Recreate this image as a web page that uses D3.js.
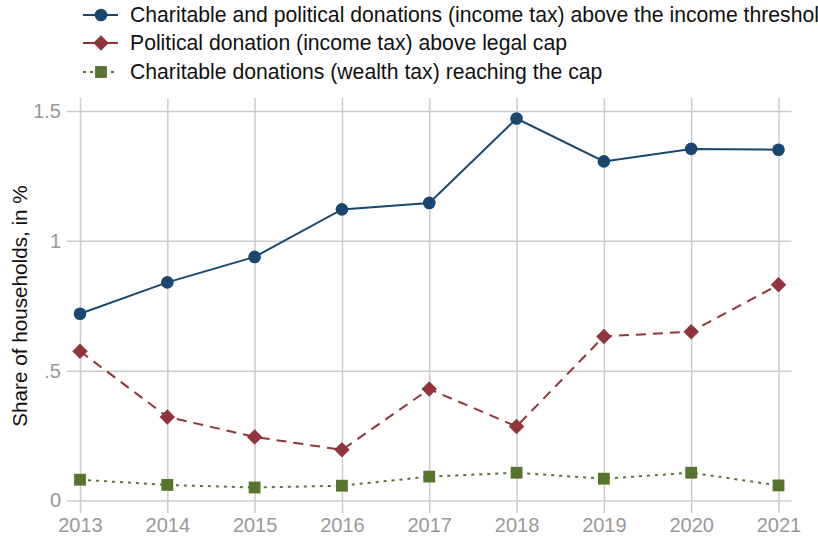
<!DOCTYPE html>
<html>
<head>
<meta charset="utf-8">
<script src="https://cdn.jsdelivr.net/npm/d3@7"></script>
<style>
  html, body { margin: 0; padding: 0; background: #fff; overflow: hidden; }
  svg { display: block; }
</style>
</head>
<body>
<svg id="chart" width="818" height="539"></svg>
<script>
const years = [2013, 2014, 2015, 2016, 2017, 2018, 2019, 2020, 2021];
const incomeTaxAboveThreshold = [0.719, 0.840, 0.938, 1.121, 1.146, 1.471, 1.306, 1.354, 1.351];
const politicalAboveCap = [0.575, 0.322, 0.245, 0.195, 0.429, 0.285, 0.632, 0.650, 0.831];
const wealthTaxReachingCap = [0.080, 0.060, 0.050, 0.057, 0.092, 0.107, 0.084, 0.107, 0.058];
const yTicks = [0, 0.5, 1, 1.5];
const yTickLabels = ["0", ".5", "1", "1.5"];
const seriesNames = [
  "Charitable and political donations (income tax) above the income threshold",
  "Political donation (income tax) above legal cap",
  "Charitable donations (wealth tax) reaching the cap"
];

const svg = d3.select("#chart");
const font = "'Liberation Sans', Arial, sans-serif";

const x = d3.scaleLinear().domain([2013, 2021]).range([80, 778.5]);
const y = d3.scaleLinear().domain([0, 1.5]).range([500.5, 111]);

const gridColor = "#cccccc";
const gridLeft = 67, gridRight = 791.5, gridTop = 98, gridBottom = 513;

// horizontal gridlines
const gy = svg.append("g").attr("transform", `translate(${gridRight},0)`);
gy.call(d3.axisLeft(y).tickValues(yTicks).tickSize(gridRight - gridLeft).tickFormat(""));
gy.select(".domain").remove();
gy.selectAll(".tick line").attr("stroke", gridColor).attr("stroke-width", 1.5);

// y labels
const gyl = svg.append("g").attr("transform", `translate(${gridLeft},0)`);
gyl.call(d3.axisLeft(y).tickValues(yTicks).tickSize(0).tickPadding(6).tickFormat((d, i) => yTickLabels[i]));
gyl.select(".domain").remove();
gyl.selectAll(".tick text").attr("font-family", font).attr("font-size", 20).attr("fill", "#999999");

// vertical gridlines
const gx = svg.append("g").attr("transform", `translate(0,${gridTop})`);
gx.call(d3.axisBottom(x).tickValues(years).tickSize(gridBottom - gridTop).tickFormat(""));
gx.select(".domain").remove();
gx.selectAll(".tick line").attr("stroke", gridColor).attr("stroke-width", 1.5);

const gxl = svg.append("g").attr("transform", `translate(0,${gridBottom})`);
gxl.call(d3.axisBottom(x).tickValues(years).tickSize(0).tickPadding(5).tickFormat(d3.format("d")));
gxl.select(".domain").remove();
gxl.selectAll(".tick text").attr("font-family", font).attr("font-size", 20).attr("fill", "#999999");

// y title
svg.append("text")
  .attr("transform", "translate(27,306) rotate(-90)")
  .attr("text-anchor", "middle")
  .attr("font-family", font).attr("font-size", 20.7).attr("fill", "#111")
  .text("Share of households, in %");

const series = [
  { name: seriesNames[0], values: incomeTaxAboveThreshold, color: "#1a476f", dash: null, marker: "circle" },
  { name: seriesNames[1], values: politicalAboveCap, color: "#90353b", dash: "10,7", marker: "diamond" },
  { name: seriesNames[2], values: wealthTaxReachingCap, color: "#55752f", dash: "3,5", marker: "square" }
];

const symbolFor = m => m === "circle" ? d3.symbol(d3.symbolCircle, 125)
  : m === "diamond" ? d3.symbol(d3.symbolSquare, 120)
  : d3.symbol(d3.symbolSquare, 140);

const line = d3.line().x((d, i) => x(years[i])).y(d => y(d));

series.forEach(s => {
  svg.append("path").datum(s.values)
    .attr("fill", "none").attr("stroke", s.color).attr("stroke-width", 2)
    .attr("stroke-dasharray", s.dash).attr("d", line);
  svg.append("g").selectAll("path").data(s.values).join("path")
    .attr("d", symbolFor(s.marker))
    .attr("transform", (d, i) => `translate(${x(years[i])},${y(d)})` + (s.marker === "diamond" ? " rotate(45)" : ""))
    .attr("fill", s.color);
});

// legend
const legendY = [15, 43, 72];
series.forEach((s, i) => {
  const g = svg.append("g").attr("transform", `translate(0,${legendY[i]})`);
  g.append("line").attr("x1", 83).attr("x2", 118).attr("y1", 0).attr("y2", 0)
    .attr("stroke", s.color).attr("stroke-width", 2).attr("stroke-dasharray", s.marker === "square" ? "3,4" : null);
  g.append("path").attr("d", symbolFor(s.marker))
    .attr("transform", `translate(101,0)` + (s.marker === "diamond" ? " rotate(45)" : ""))
    .attr("fill", s.color);
  g.append("text").attr("x", 130).attr("y", 0).attr("dy", "0.35em")
    .attr("font-family", font).attr("font-size", 21.2).attr("fill", "#111")
    .text(s.name);
});
</script>
</body>
</html>
